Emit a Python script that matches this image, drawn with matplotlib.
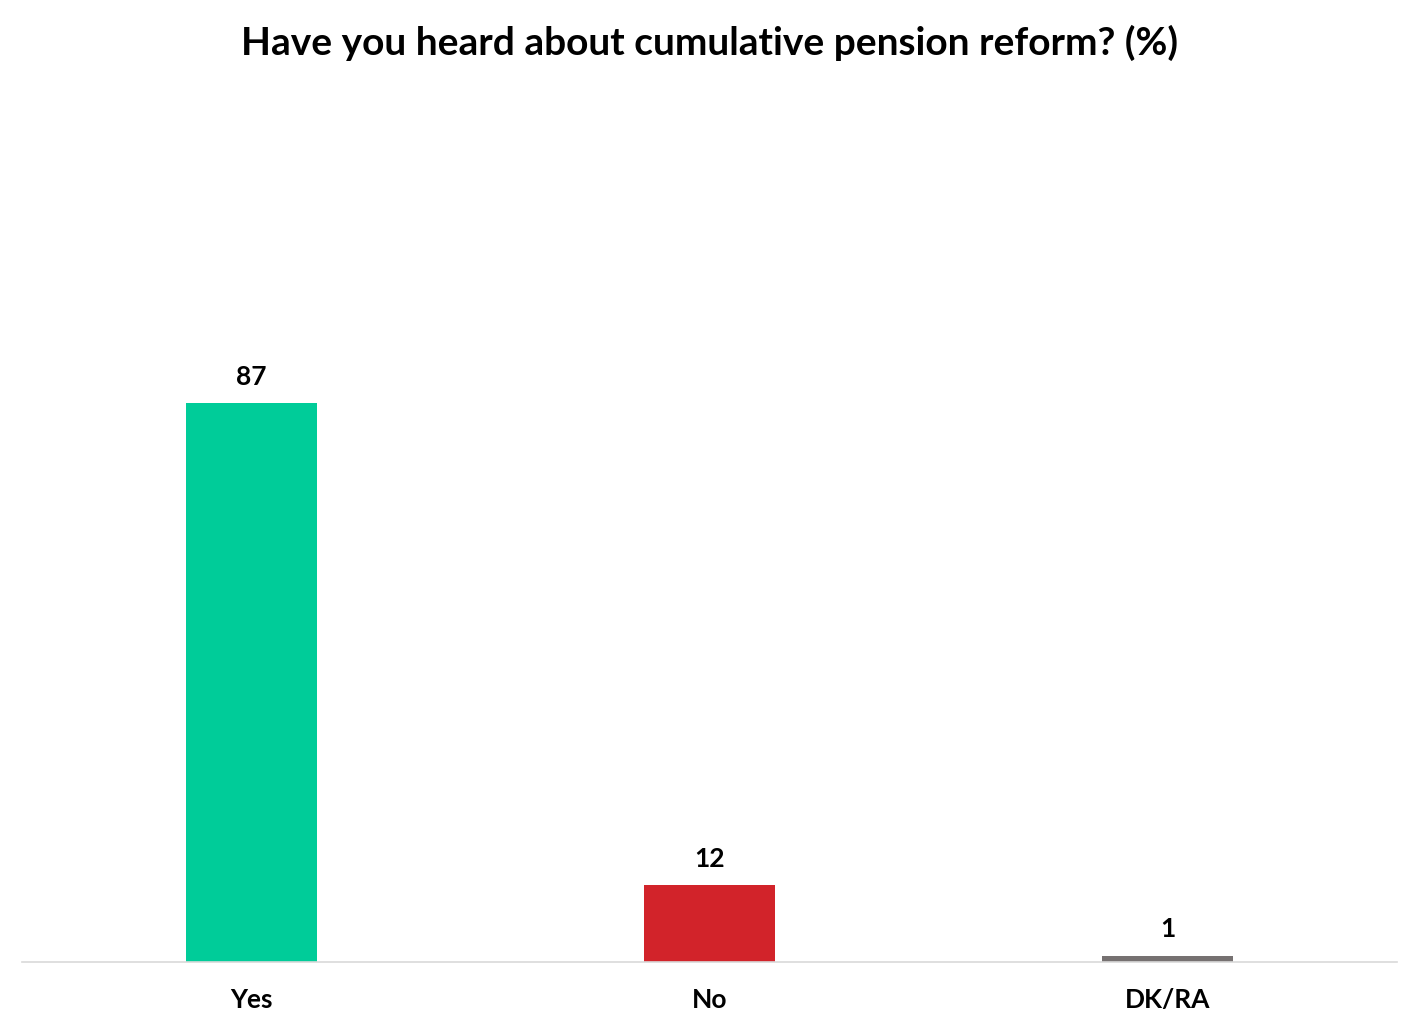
import matplotlib.pyplot as plt

categories = ['Yes', 'No', 'DK/RA']
values = [87, 12, 1]
colors = ['#00CC99', '#D2232A', '#767171']

title = 'Have you heard about cumulative pension reform? (%)'

plt.rcParams['font.family'] = ['Lato', 'DejaVu Sans']

fig = plt.figure(figsize=(14.2, 10.31), dpi=100)
ax = fig.add_axes([22 / 1420, 69 / 1031, 1375 / 1420, 862 / 1031])

x = range(len(categories))
bars = ax.bar(x, values, width=0.286, color=colors)

for rect, v in zip(bars, values):
    ax.annotate(str(v), (rect.get_x() + rect.get_width() / 2, v),
                xytext=(0, 19), textcoords='offset points',
                ha='center', va='center', fontsize=19, fontweight='bold')

ax.set_xlim(-0.5, 2.5)
ax.set_ylim(0, 134.2)
ax.set_xticks(list(x))
ax.set_xticklabels(categories, fontsize=19, fontweight='bold')
ax.tick_params(axis='x', length=0, pad=19)
ax.set_yticks([])
for side in ['top', 'right', 'left']:
    ax.spines[side].set_visible(False)
ax.spines['bottom'].set_color('#D9D9D9')
ax.spines['bottom'].set_linewidth(1.2)

fig.text(0.5, 1 - 43 / 1031, title, ha='center', va='center',
         fontsize=28, fontweight='bold')

fig.savefig('out.png', dpi=100)
